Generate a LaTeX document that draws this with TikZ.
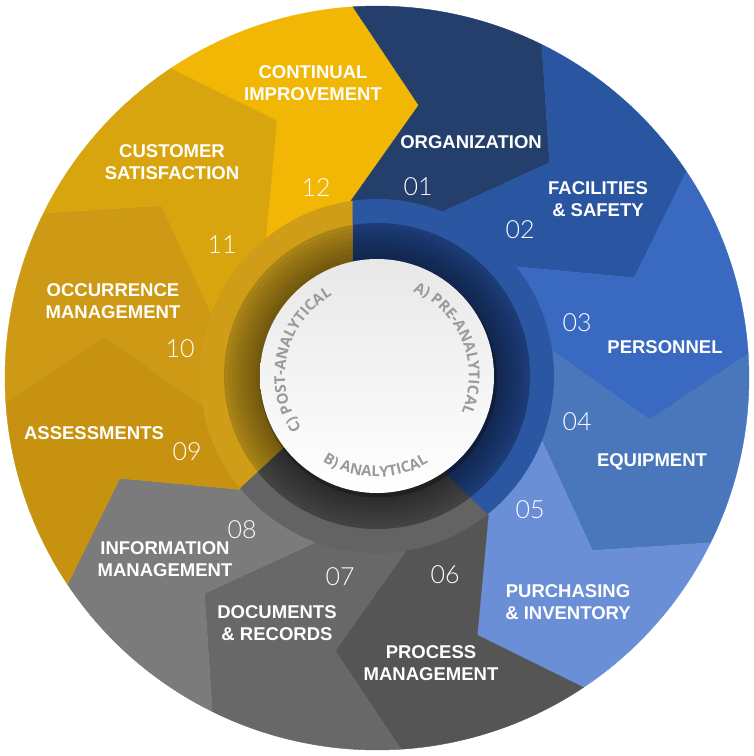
\documentclass[tikz,border=0pt]{standalone}
\usepackage{fontspec}
\setmainfont{Liberation Sans}
\IfFontExistsTF{Lato Light}{\newfontfamily\numfont{Lato Light}}{\newfontfamily\numfont{Lato}}
\newfontfamily\cfont{Open Sans}
\usetikzlibrary{decorations.text}
\definecolor{s12}{HTML}{F2B705}
\definecolor{s01}{HTML}{243F6B}
\definecolor{s02}{HTML}{2A55A0}
\definecolor{s03}{HTML}{3A69C1}
\definecolor{s04}{HTML}{4A77BC}
\definecolor{s05}{HTML}{6A8FD6}
\definecolor{s06}{HTML}{555555}
\definecolor{s07}{HTML}{686868}
\definecolor{s08}{HTML}{7B7B7B}
\definecolor{s09}{HTML}{C69210}
\definecolor{s10}{HTML}{CE9A15}
\definecolor{s11}{HTML}{D9A50F}
\definecolor{rb}{HTML}{2B57A2}
\definecolor{rg}{HTML}{636363}
\definecolor{ry}{HTML}{CF9D18}
\definecolor{db}{HTML}{1F3F7C}
\definecolor{dg}{HTML}{454545}
\definecolor{dy}{HTML}{B08A18}
\definecolor{ctext}{HTML}{9A9A9A}
\begin{document}
\begin{tikzpicture}[x=1pt,y=1pt,
  lab/.style={text=white,font=\fontsize{18.5}{22}\selectfont\bfseries,align=center,inner sep=0pt},
  num/.style={text=white,font=\fontsize{25}{25}\selectfont\numfont,inner sep=0pt},
  arctext/.style={decorate,decoration={text along path,text align=center,
     text={|\fontsize{15}{15}\selectfont\cfont\bfseries\color{ctext}|#1}}}]
\useasboundingbox (0,0) rectangle (754,-756);
\fill[white] (0,0) rectangle (754,-756);
% outer segments
\begin{scope}[shift={(377,-378)}]
\foreach \k/\c in {0/s12,1/s01,2/s02,3/s03,4/s04,5/s05,6/s06,7/s07,8/s08,9/s09,10/s10,11/s11}{
  \pgfmathsetmacro\a{93.7-30*\k}
  \pgfmathsetmacro\b{\a+30}
  \fill[\c,draw=\c,line width=0.4pt] (\b:372) arc[start angle=\b,end angle=\a,radius=372]
     -- ({\a-12.4}:276) -- ({\a+5.3}:177) -- (0,0) -- ({\b+5.3}:177) -- ({\b-12.4}:276) -- cycle;
}
\end{scope}
% light ring band
\begin{scope}
\clip (377,-376) circle (177);
\fill[rb] (353,-383) -- (352,10) -- (760,10) -- (760,-781) -- cycle;
\fill[rg] (353,-383) -- (760,-781) -- (760,-900) -- (-10,-900) -- (-10,-720.5) -- cycle;
\fill[ry] (353,-383) -- (-10,-720.5) -- (-10,10) -- (352,10) -- cycle;
\end{scope}
% dark ring band
\begin{scope}
\clip (377,-376) circle (153);
\fill[db] (353,-383) -- (352,10) -- (760,10) -- (760,-781) -- cycle;
\fill[dg] (353,-383) -- (760,-781) -- (760,-900) -- (-10,-900) -- (-10,-720.5) -- cycle;
\fill[dy] (353,-383) -- (-10,-720.5) -- (-10,10) -- (352,10) -- cycle;
\end{scope}
\foreach \i in {1,...,9}{\fill[black,opacity=0.045] (377,-376) circle ({117+4*\i});}
% white disc
\fill[black,opacity=0.25] (378.5,-379) circle (118.5);
\shade[top color=black!9,bottom color=white] (377,-376) circle (117);
% curved texts
\path[arctext={A) PRE-ANALYTICAL}] (377,-376) ++(82:92) arc[start angle=82,end angle=-38,radius=92];
\path[arctext={B) ANALYTICAL}] (377,-376) ++(-151:101) arc[start angle=-151,end angle=-31,radius=101];
\path[arctext={C) POST-ANALYTICAL}] (377,-376) ++(227:92) arc[start angle=227,end angle=107,radius=92];
% labels
\node[lab] (t12) at (313,-83) {CONTINUAL\\IMPROVEMENT};
\node[lab] (t01) at (471,-142) {ORGANIZATION};
\node[lab] (t02) at (598,-199) {FACILITIES\\\& SAFETY};
\node[lab] (t03) at (665,-347) {PERSONNEL};
\node[lab] (t04) at (652,-462) {EQUIPMENT};
\node[lab] (t05) at (568,-602) {PURCHASING\\\& INVENTORY};
\node[lab] (t06) at (431,-663) {PROCESS\\MANAGEMENT};
\node[lab] (t07) at (277,-623) {DOCUMENTS\\\& RECORDS};
\node[lab] (t08) at (165,-559) {INFORMATION\\MANAGEMENT};
\node[lab] (t09) at (94,-433) {ASSESSMENTS};
\node[lab] (t10) at (113,-301) {OCCURRENCE\\MANAGEMENT};
\node[lab] (t11) at (172,-162) {CUSTOMER\\SATISFACTION};
% numbers
\node[num] (n12) at (316,-188) {12};
\node[num] (n01) at (418,-187) {01};
\node[num] (n02) at (520,-230) {02};
\node[num] (n03) at (577,-323) {03};
\node[num] (n04) at (577,-422) {04};
\node[num] (n05) at (530,-510) {05};
\node[num] (n06) at (445,-575) {06};
\node[num] (n07) at (340,-577) {07};
\node[num] (n08) at (242,-530) {08};
\node[num] (n09) at (187,-452) {09};
\node[num] (n10) at (180,-349) {10};
\node[num] (n11) at (222,-245) {11};
\end{tikzpicture}
\end{document}
